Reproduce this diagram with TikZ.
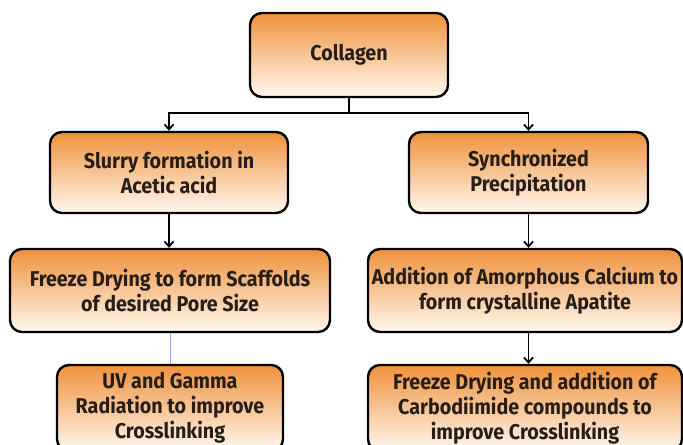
\documentclass[tikz,border=0pt]{standalone}
\usepackage{fontspec}
\usepackage{tikz}
\usetikzlibrary{arrows.meta}
\newfontfamily\boxfont{Fira Sans}[FakeStretch=0.92]
\definecolor{boxtop}{RGB}{239,146,60}
\definecolor{boxbottom}{RGB}{255,248,240}
\definecolor{boxtext}{RGB}{40,30,24}
\definecolor{thinblue}{RGB}{150,170,215}
\tikzset{
  stage/.style={draw=black,line width=2.4bp,rounded corners=12bp,top color=boxtop,bottom color=boxbottom,
    align=center,text=boxtext,font=\boxfont\bfseries\fontsize{21.5}{25}\selectfont,inner sep=0pt},
  link/.style={line width=1.8bp,-{Straight Barb[length=5bp,width=9bp]}}
}
\begin{document}
\begin{tikzpicture}[x=1bp,y=-1bp]
    \clip (0,0) rectangle (683,445);
    \fill[white] (0,0) rectangle (683,445);
    \node[stage,minimum width=198bp,minimum height=84bp] (col) at (349,55) {Collagen};
    \node[stage,minimum width=238bp,minimum height=81bp] (slurry) at (169,172.5) {Slurry formation in\\Acetic acid};
    \node[stage,minimum width=239bp,minimum height=81bp] (sync) at (528.5,172.5) {Synchronized\\Precipitation};
    \node[stage,minimum width=320bp,minimum height=83bp] (dryL) at (170,290.5) {Freeze Drying to form Scaffolds\\of desired Pore Size};
    \node[stage,minimum width=314bp,minimum height=83bp] (acp) at (525,290.5) {Addition of Amorphous Calcium to\\form crystalline Apatite};
    \node[stage,minimum width=226bp,minimum height=86bp] (uv) at (170,408) {UV and Gamma\\Radiation to improve\\Crosslinking};
    \node[stage,minimum width=314bp,minimum height=86bp] (dryR) at (525,408) {Freeze Drying and addition of\\Carbodiimide compounds to\\improve Crosslinking};
    \coordinate (split) at (349,113);
    \draw[line width=1.8bp] (col.south) -- (split);
    \draw[link] (split) -| (slurry.north);
    \draw[link] (split) -| (sync.north);
    \draw[link] (slurry.south) -- (slurry.south |- dryL.north);
    \draw[link] (sync.south) -- (sync.south |- acp.north);
    \draw[link] (acp.south -| sync.south) -- (sync.south |- dryR.north);
    \draw[thinblue,line width=1bp] (dryL.south) -- (uv.north);
  \end{tikzpicture}
\end{document}
